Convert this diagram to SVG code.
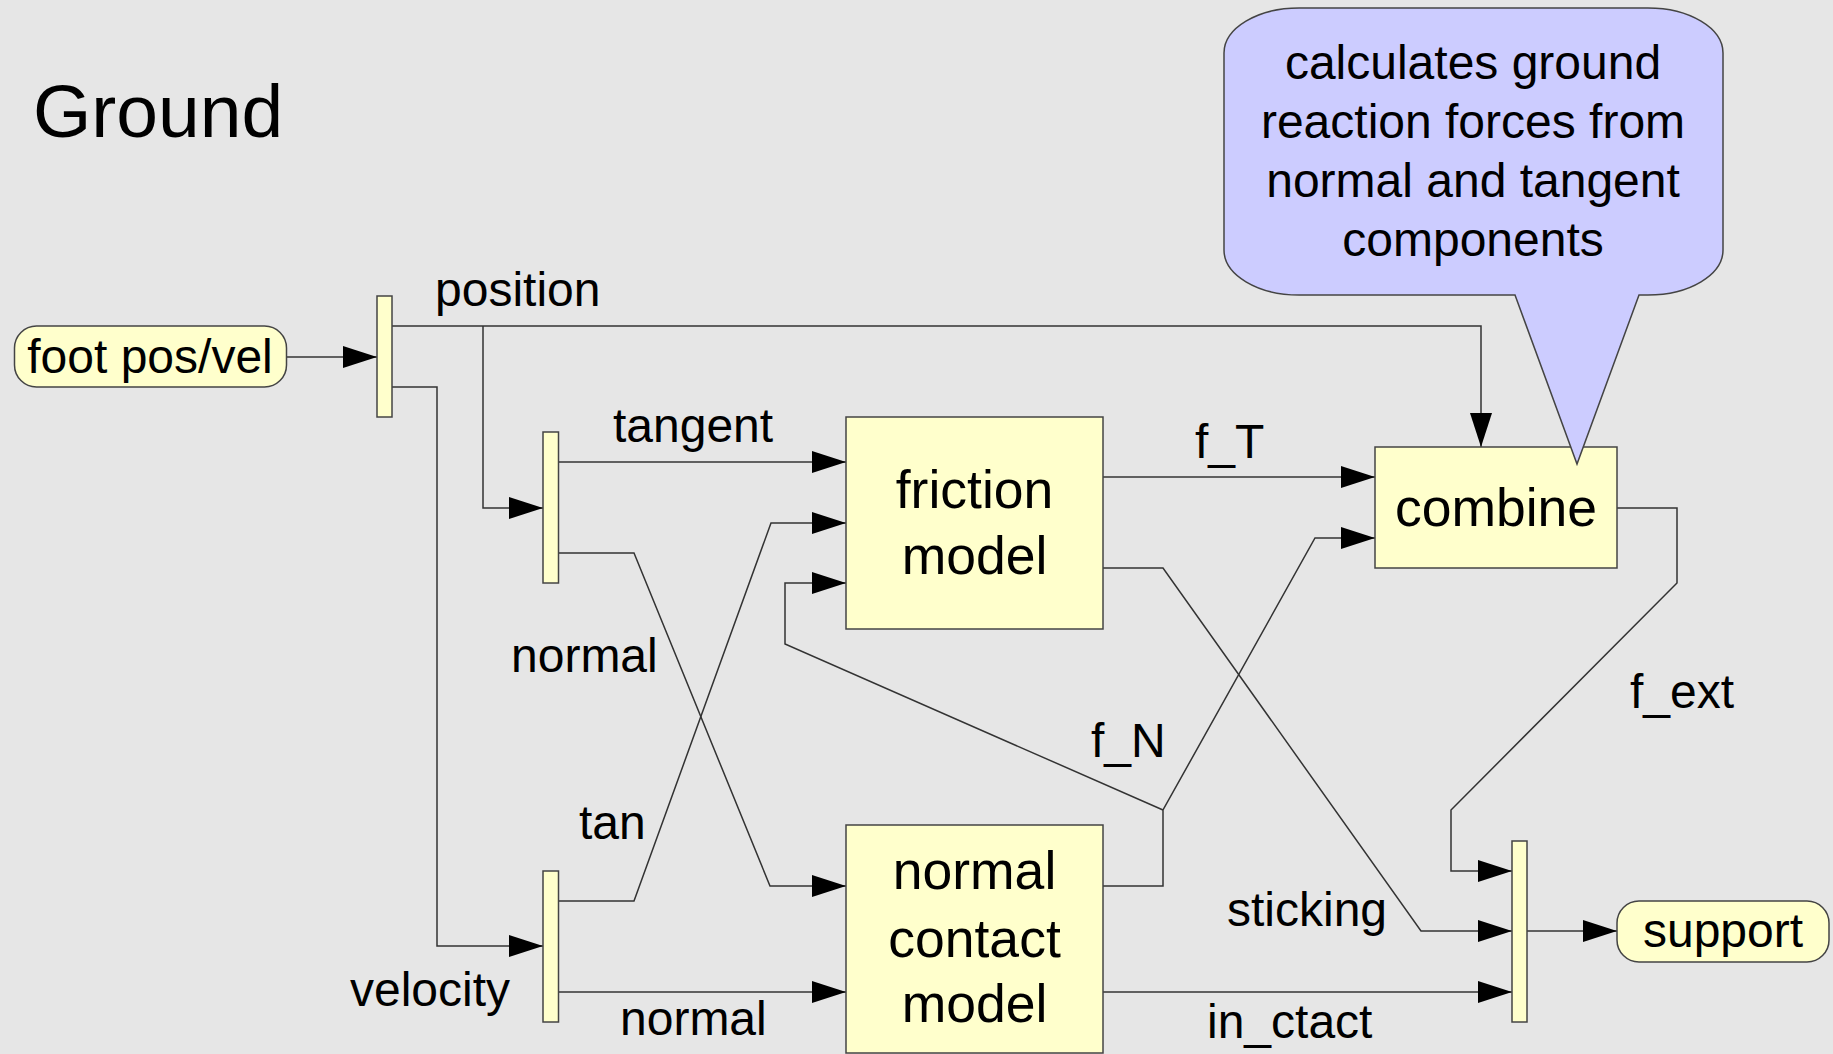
<svg xmlns="http://www.w3.org/2000/svg" width="1833" height="1054" viewBox="0 0 1833 1054">
<style>
text{font-family:"Liberation Sans",Arial,Helvetica,sans-serif;fill:#000}
.lbl{font-size:48px}
.box{fill:#ffffcc;stroke:#444;stroke-width:1.5}
.btxt{font-size:53.5px;text-anchor:middle}
.wire{fill:none;stroke:#333;stroke-width:1.5}
.arr{marker-end:url(#ah)}
</style>
<defs>
<marker id="ah" markerUnits="userSpaceOnUse" markerWidth="34" markerHeight="22" refX="34" refY="11" orient="auto">
<path d="M0,0 L34,11 L0,22 Z" fill="#000"/>
</marker>
</defs>
<rect x="0" y="0" width="1833" height="1054" fill="#e6e6e6"/>
<text x="33" y="137" font-size="75">Ground</text>

<g id="connectors">
<path class="wire arr" d="M286,357 L377,357"/>
<path class="wire arr" d="M392,326 L1481,326 L1481,447"/>
<path class="wire arr" d="M483,326 L483,508 L543,508"/>
<path class="wire arr" d="M392,387 L437,387 L437,946 L543,946"/>
<path class="wire arr" d="M559,462 L846,462"/>
<path class="wire arr" d="M559,553 L634,553 L770,886 L846,886"/>
<path class="wire arr" d="M559,901 L634,901 L771,523 L846,523"/>
<path class="wire arr" d="M559,992 L846,992"/>
<path class="wire arr" d="M1103,477 L1375,477"/>
<path class="wire arr" d="M1103,568 L1163,568 L1421,931 L1512,931"/>
<path class="wire arr" d="M1103,886 L1163,886 L1163,810 L1315,538 L1375,538"/>
<path class="wire arr" d="M1163,810 L785,644 L785,583 L846,583"/>
<path class="wire arr" d="M1617,508 L1677,508 L1677,583 L1451,810 L1451,871 L1512,871"/>
<path class="wire arr" d="M1103,992 L1512,992"/>
<path class="wire arr" d="M1527,931 L1617,931"/>
</g>

<g id="labels">
<text class="lbl" x="435" y="306">position</text>
<text class="lbl" x="613" y="442">tangent</text>
<text class="lbl" x="511" y="672">normal</text>
<text class="lbl" x="579" y="839">tan</text>
<text class="lbl" x="510" y="1006" text-anchor="end">velocity</text>
<text class="lbl" x="620" y="1035">normal</text>
<text class="lbl" x="1195" y="458">f_T</text>
<text class="lbl" x="1091" y="757">f_N</text>
<text class="lbl" x="1630" y="708">f_ext</text>
<text class="lbl" x="1227" y="926">sticking</text>
<text class="lbl" x="1207" y="1038">in_ctact</text>
</g>

<g id="foot">
<rect class="box" x="14.5" y="326" width="272" height="61" rx="22" ry="22"/>
<text class="lbl" x="150" y="373" text-anchor="middle">foot pos/vel</text>
</g>
<g id="split1"><rect class="box" x="377" y="296" width="15" height="121"/></g>
<g id="split2"><rect class="box" x="543" y="432" width="15.5" height="151"/></g>
<g id="split3"><rect class="box" x="543" y="871" width="15.5" height="151"/></g>
<g id="merge"><rect class="box" x="1512" y="841" width="15" height="181"/></g>

<g id="friction">
<rect class="box" x="846" y="417" width="257" height="212"/>
<text class="btxt" x="974.5" y="508">friction</text>
<text class="btxt" x="974.5" y="574">model</text>
</g>

<g id="contact">
<rect class="box" x="846" y="825" width="257" height="228"/>
<text class="btxt" x="974.5" y="889">normal</text>
<text class="btxt" x="974.5" y="957">contact</text>
<text class="btxt" x="974.5" y="1022">model</text>
</g>

<g id="combine">
<rect class="box" x="1375" y="447" width="242" height="121"/>
<text class="btxt" x="1496" y="526">combine</text>
</g>

<g id="support">
<rect class="box" x="1617" y="901" width="212" height="61" rx="22" ry="22"/>
<text class="lbl" x="1723" y="947" text-anchor="middle">support</text>
</g>

<g id="callout">
<path d="M1299,8 L1648,8 A75,45 0 0 1 1723,53 L1723,250 A75,45 0 0 1 1648,295 L1639,295 L1577,464 L1515,295 L1299,295 A75,45 0 0 1 1224,250 L1224,53 A75,45 0 0 1 1299,8 Z" fill="#ccccff" stroke="#444" stroke-width="1.5"/>
<text class="lbl" x="1473" y="79" text-anchor="middle">calculates ground</text>
<text class="lbl" x="1473" y="138" text-anchor="middle">reaction forces from</text>
<text class="lbl" x="1473" y="197" text-anchor="middle">normal and tangent</text>
<text class="lbl" x="1473" y="256" text-anchor="middle">components</text>
</g>
</svg>
